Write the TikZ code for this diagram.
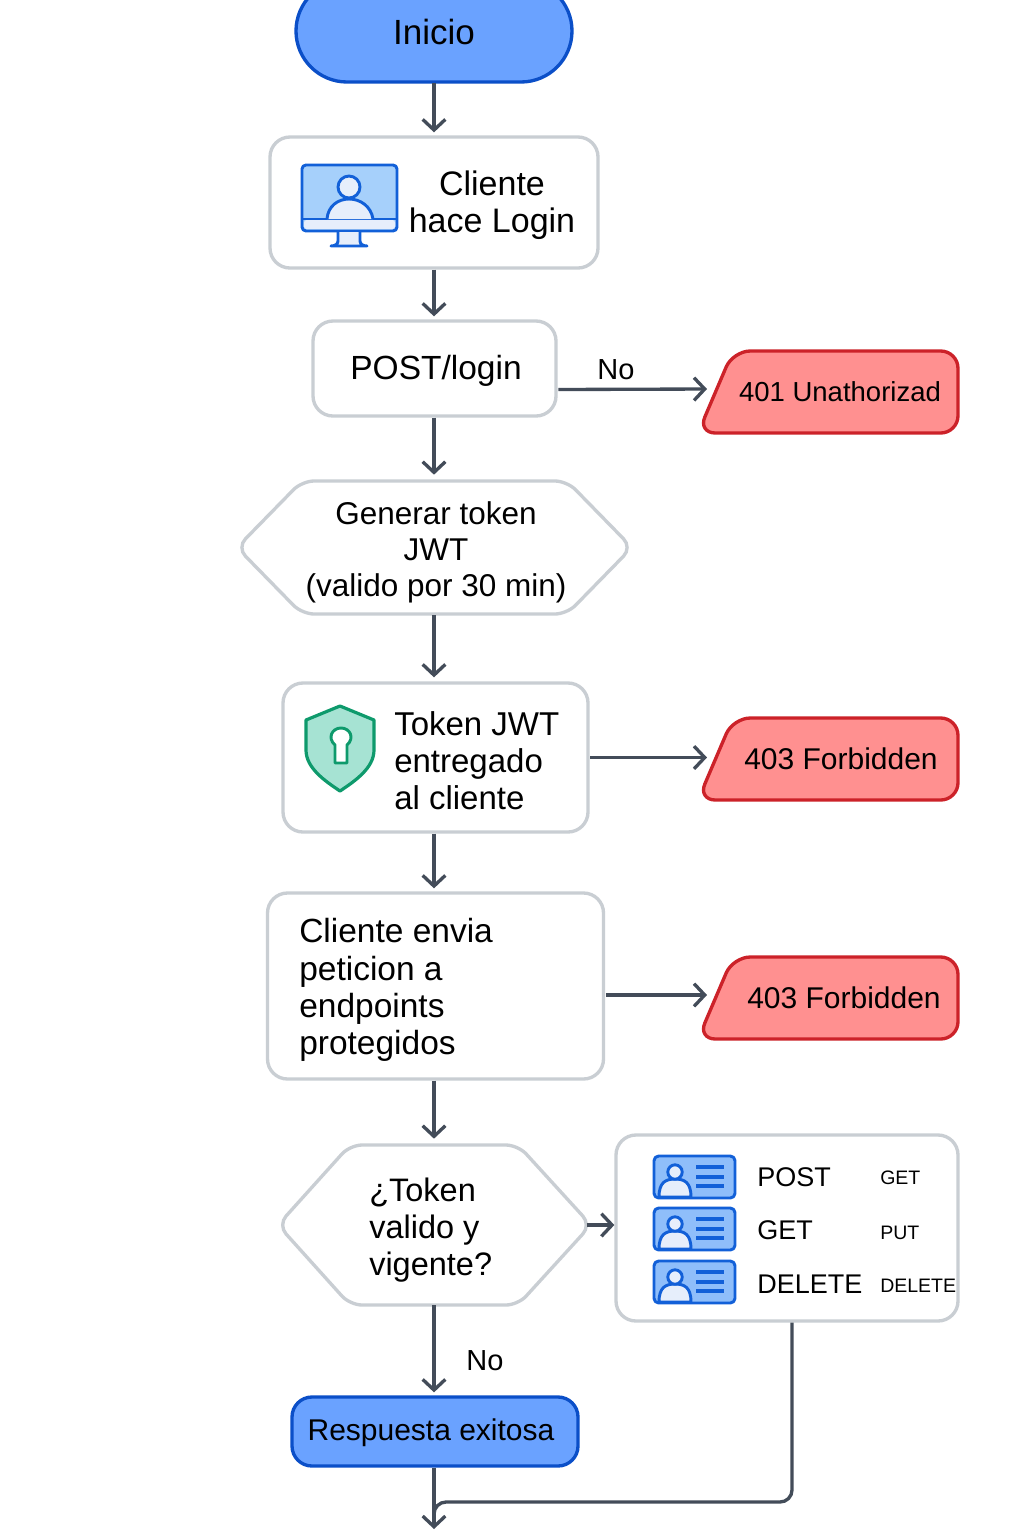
\documentclass[tikz,border=0pt]{standalone}
\usepackage{fontspec}
\setmainfont{Liberation Sans}
\usetikzlibrary{arrows.meta,shapes.misc}
\definecolor{edgec}{HTML}{434C59}
\definecolor{boxc}{HTML}{C9CED3}
\definecolor{bluef}{HTML}{6AA2FF}
\definecolor{blued}{HTML}{0B4FC8}
\definecolor{iconb}{HTML}{1260D8}
\definecolor{iconf}{HTML}{A6D0FB}
\definecolor{iconl}{HTML}{E6EEFB}
\definecolor{cardf}{HTML}{8FBEFA}
\definecolor{redf}{HTML}{FF9090}
\definecolor{redd}{HTML}{CC2229}
\definecolor{shf}{HTML}{A6E3D3}
\definecolor{shd}{HTML}{0E9A6C}
\newcommand{\fpx}[2]{\fontsize{\the\dimexpr #1pt*3/4\relax}{\the\dimexpr #2pt*3/4\relax}\selectfont}
\tikzset{
  x=0.75pt,y=-0.75pt,
  flow/.style={draw=edgec,line width=2.5pt,-{Straight Barb[length=8pt,width=17pt,line width=2.5pt]}},
  procbox/.style={draw=boxc,fill=white,line width=2.5pt,rounded corners=15pt,inner sep=0pt},
  termbox/.style={draw=blued,fill=bluef,line width=2.5pt,inner sep=0pt},
  shapeline/.style={draw=boxc,fill=white,line width=2.5pt,rounded corners=9pt},
  errline/.style={draw=redd,fill=redf,line width=2.5pt,rounded corners=13pt},
  plain/.style={inner sep=0pt,outer sep=0pt},
  iconline/.style={draw=iconb,line width=2.2pt,line join=round},
  label/.style={inner sep=0pt,text=black},
}
\newcommand{\errnode}[5]{%
  \draw[errline] (830,#2+82) -- (698,#2+82) -- (733,#2) -- (958,#2) -- (958,#2+82) -- cycle;
  \node[plain,minimum width=188.25pt,minimum height=61.5pt] (#1) at (832.5,#2+41) {};
  \node[label,font=\fpx{#4}{#4}] (#1t) at (#3,#2+41) {#5};
}
\newcommand{\cardicon}[1]{%
  \draw[iconline,fill=cardf,rounded corners=3.5pt] (654,#1) rectangle (735,#1+42);
  \draw[iconline,fill=iconl] (659,#1+41) .. controls (659,#1+26) and (666,#1+23) .. (675,#1+23) .. controls (684,#1+23) and (691,#1+26) .. (691,#1+41) -- cycle;
  \draw[iconline,fill=iconl] (675,#1+16) circle[radius=7.2];
  \foreach \ly in {11,21,30} \draw[draw=iconb,line width=2.6pt] (696,#1+\ly) -- (724,#1+\ly);
}
\begin{document}
\begin{tikzpicture}
\useasboundingbox (0,0) rectangle (1024,1536);
\fill[white] (0,0) rectangle (1024,1536);

% Inicio
\node[termbox,rounded rectangle,minimum width=207pt,minimum height=76.5pt,rounded rectangle arc length=180] (inicio) at (434,31) {};
\node[label,font=\fpx{35}{35}] (iniciot) at (434,32) {Inicio};

% Cliente hace login
\node[procbox,minimum width=246pt,minimum height=98.25pt] (login) at (434,202.5) {};
\node[label,font=\fpx{34}{37},align=center] (logint) at (492,205) {Cliente\\hace Login};
\draw[iconline,fill=iconf,rounded corners=3pt] (302,165) rectangle (397,231);
\fill[iconl,rounded corners=2pt] (304,220) rectangle (395,229);
\draw[iconline] (302,219) -- (397,219);
\draw[iconline,fill=iconl] (327,219) .. controls (328,206) and (338,199) .. (349,199) .. controls (360,199) and (371,206) .. (373,219);
\draw[iconline,fill=iconl] (349,187) circle[radius=11];
\draw[iconline,fill=iconl] (338,232) -- (338,241) .. controls (338,244) and (335,246) .. (331,246) -- (367,246) .. controls (363,246) and (360,244) .. (360,241) -- (360,232);

% POST/login
\node[procbox,minimum width=182.25pt,minimum height=71.25pt] (post) at (434.5,368.5) {};
\node[label,font=\fpx{33.5}{33.5}] (postt) at (436,371) {POST/login};

% 401
\errnode{e401}{351}{840}{27.5}{401 Unathorizad}

% Generar token
\draw[shapeline] (237,547.5) -- (302,481) -- (567,481) -- (632,547.5) -- (567,614) -- (302,614) -- cycle;
\node[plain,minimum width=288.75pt,minimum height=99.75pt] (gen) at (434.5,547.5) {};
\node[label,font=\fpx{31.5}{36},align=center] (gent) at (436,552) {Generar token\\JWT\\(valido por 30 min)};

% Token
\node[procbox,minimum width=228.75pt,minimum height=111.75pt] (tok) at (435.5,757.5) {};
\node[label,font=\fpx{33}{37},align=left,anchor=west] (tokt) at (394,760.5) {Token JWT\\entregado\\al cliente};
\draw[draw=shd,fill=shf,line width=2.4pt,line join=round] (340,706) -- (374,720) -- (374,750) .. controls (374,768) and (355,781) .. (340,791) .. controls (325,781) and (306,768) .. (306,750) -- (306,720) -- cycle;
\draw[draw=shd,fill=white,line width=2.2pt,line join=round] (335,745) .. controls (327,738) and (332,728) .. (341,728) .. controls (350,728) and (355,738) .. (347,745) -- (347,763) -- (335,763) -- cycle;

% 403 a
\errnode{e403a}{718}{841}{30}{403 Forbidden}

% Cliente envia
\node[procbox,minimum width=252pt,minimum height=139.5pt] (envia) at (435.5,986) {};
\node[label,font=\fpx{33.5}{37.3},align=left,anchor=west] (enviat) at (299,990) {Cliente envia\\peticion a\\endpoints\\protegidos};

% 403 b
\errnode{e403b}{957}{844}{30}{403 Forbidden}

% Token valido
\draw[shapeline] (278,1225) -- (350,1145) -- (518,1145) -- (591,1225) -- (518,1305) -- (350,1305) -- cycle;
\node[plain,minimum width=227.25pt,minimum height=120pt] (valido) at (434.5,1225) {};
\node[label,font=\fpx{32.5}{37},align=left,anchor=west] (validot) at (369,1230) {¿Token\\valido y\\vigente?};

% Methods box
\node[procbox,minimum width=256.5pt,minimum height=139.5pt] (metodos) at (787,1228) {};
\cardicon{1156}
\cardicon{1208}
\cardicon{1261}
\node[label,anchor=base west,font=\fpx{27}{27}] (m1) at (757,1186) {POST};
\node[label,anchor=base west,font=\fpx{27}{27}] (m2) at (757,1239) {GET};
\node[label,anchor=base west,font=\fpx{27}{27}] (m3) at (757,1293) {DELETE};
\node[label,anchor=base west,font=\fpx{19.5}{19.5}] (s1) at (880,1184) {GET};
\node[label,anchor=base west,font=\fpx{19.5}{19.5}] (s2) at (880,1239) {PUT};
\node[label,anchor=base west,font=\fpx{19.5}{19.5}] (s3) at (880,1292) {DELETE};

% Respuesta
\node[termbox,rounded corners=15pt,minimum width=214.5pt,minimum height=51.75pt] (resp) at (435,1431.5) {};
\node[label,font=\fpx{30}{30}] (respt) at (431,1433) {Respuesta exitosa};

% Connectors (trunk x = 434, from Inicio's centre)
\coordinate (fin) at (434,1529);
\coordinate (trunk) at (434,0);
\draw[flow] (inicio.south) ++(0,-1) -- ([yshift=2.25pt]login.north -| trunk);
\draw[flow] (login.south -| trunk) ++(0,0) -- ([yshift=2.25pt]post.north -| trunk);
\draw[flow] ([shift={(0.5pt,-15.75pt)}]post.east) -- (e401.west |- 0,389);
\draw[flow] (post.south -| trunk) ++(0,0) -- ([yshift=4.75pt]gen.north -| trunk);
\draw[flow] (gen.south -| trunk) ++(0,1) -- ([yshift=3pt]tok.north -| trunk);
\draw[flow] ([xshift=0.5pt]tok.east) -- (e403a.west |- tok.east);
\draw[flow] (tok.south -| trunk) ++(0,0) -- ([yshift=2.25pt]envia.north -| trunk);
\draw[flow] ([shift={(0.5pt,-6.75pt)}]envia.east) -- (e403b.west |- 0,995);
\draw[flow] (envia.south -| trunk) ++(0,0) -- ([yshift=4.75pt]valido.north -| trunk);
\draw[flow] ([xshift=0.5pt]valido.east) -- (metodos.west |- valido.east);
\draw[flow] (valido.south -| trunk) ++(0,0) -- ([yshift=2.25pt]resp.north -| trunk);
\draw[flow] (resp.south -| trunk) ++(0,0) -- (fin);
\draw[draw=edgec,line width=2.5pt,rounded corners=9pt] (metodos.south -| 792,0) -- (792,1502) -- (434,1502) -- (434,1522);

% Edge labels
\node[label,font=\fpx{29}{29}] (no1) at (616,370) {No};
\node[label,font=\fpx{29}{29}] (no2) at (485,1361) {No};
\end{tikzpicture}
\end{document}
